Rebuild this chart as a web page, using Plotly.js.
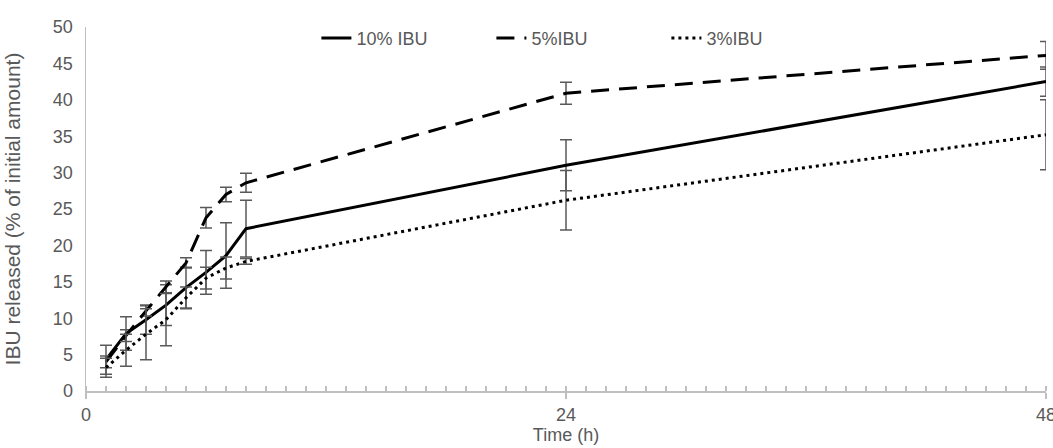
<!DOCTYPE html>
<html>
<head>
<meta charset="utf-8">
<script src="https://cdn.plot.ly/plotly-3.0.1.min.js"></script>
<style>
html,body{margin:0;padding:0;background:#fff;}
#chart{width:1053px;height:448px;}
</style>
</head>
<body>
<div id="chart"></div>
<script>
// Data
var time = [1, 2, 3, 4, 5, 6, 7, 8, 24, 48];

var ibu10 = [4.3, 7.9, 9.8, 11.8, 14.2, 16.3, 18.6, 22.3, 31.0, 42.5];
var ibu10Err = [2.0, 2.3, 2.0, 2.8, 2.8, 3.0, 4.5, 3.9, 3.5, 2.0];

var ibu5 = [4.0, 7.6, 11.0, 14.3, 17.6, 23.8, 27.0, 28.6, 40.9, 46.1];
var ibu5Err = [0.8, 0.8, 0.7, 0.8, 0.7, 1.4, 1.0, 1.3, 1.5, 1.9];

var ibu3 = [3.2, 5.6, 7.8, 9.8, 12.8, 15.5, 16.9, 17.8, 26.2, 35.2];
var ibu3Err = [1.3, 2.2, 3.5, 3.6, 1.5, 1.5, 1.5, 0.4, 4.1, 4.8];

var seriesNames = ['10% IBU', '5%IBU', '3%IBU'];

var xTicks = [0, 24, 48];

var errStyle = function (arr) {
  return {type: 'data', array: arr, visible: true, color: '#595959', thickness: 1.5, width: 6};
};

var traces = [
  {x: time, y: ibu10, name: seriesNames[0], type: 'scatter', mode: 'lines',
   line: {color: '#000000', width: 3}, error_y: errStyle(ibu10Err), cliponaxis: false},
  {x: time, y: ibu5, name: seriesNames[1], type: 'scatter', mode: 'lines',
   line: {color: '#000000', width: 3, dash: '18px,10px'}, error_y: errStyle(ibu5Err), cliponaxis: false},
  {x: time, y: ibu3, name: seriesNames[2], type: 'scatter', mode: 'lines',
   line: {color: '#000000', width: 3, dash: '3px,4px'}, error_y: errStyle(ibu3Err), cliponaxis: false}
];

var fontFam = '"Liberation Sans", Arial, sans-serif';

var layout = {
  width: 1053, height: 448,
  margin: {l: 86, r: 7, t: 27, b: 57},
  paper_bgcolor: '#ffffff', plot_bgcolor: '#ffffff',
  font: {family: fontFam, size: 18, color: '#595959'},
  showlegend: true,
  legend: {orientation: 'h', x: 0.24, xanchor: 'left', y: 1.02, yanchor: 'top',
           entrywidth: 130, entrywidthmode: 'pixels', itemwidth: 30,
           font: {family: fontFam, size: 18, color: '#595959'}, bgcolor: 'rgba(0,0,0,0)'},
  xaxis: {
    range: [0, 48], tickvals: xTicks, ticktext: xTicks.map(String),
    showline: true, linecolor: '#bfbfbf', linewidth: 1.5,
    ticks: 'outside', ticklen: 6, tickcolor: '#bfbfbf', tickwidth: 1.5,
    minor: {dtick: 1, ticks: 'inside', ticklen: 5, tickcolor: '#bfbfbf', tickwidth: 1.5, showgrid: false},
    showgrid: false, zeroline: false, ticklabeloverflow: 'allow', ticklabelstandoff: 1,
    tickfont: {size: 18, color: '#595959'},
    title: {text: 'Time (h)', font: {size: 18, color: '#595959'}, standoff: 2}
  },
  yaxis: {
    range: [0, 50], dtick: 5, tick0: 0,
    showline: true, linecolor: '#bfbfbf', linewidth: 1.5,
    ticks: '', showgrid: false, zeroline: false, ticklabelstandoff: 8,
    tickfont: {size: 18, color: '#595959'},
    title: {text: 'IBU released (% of initial amount)', font: {size: 21, color: '#595959'}, standoff: 26}
  }
};

Plotly.newPlot('chart', traces, layout, {displayModeBar: false, staticPlot: true});
</script>
</body>
</html>
